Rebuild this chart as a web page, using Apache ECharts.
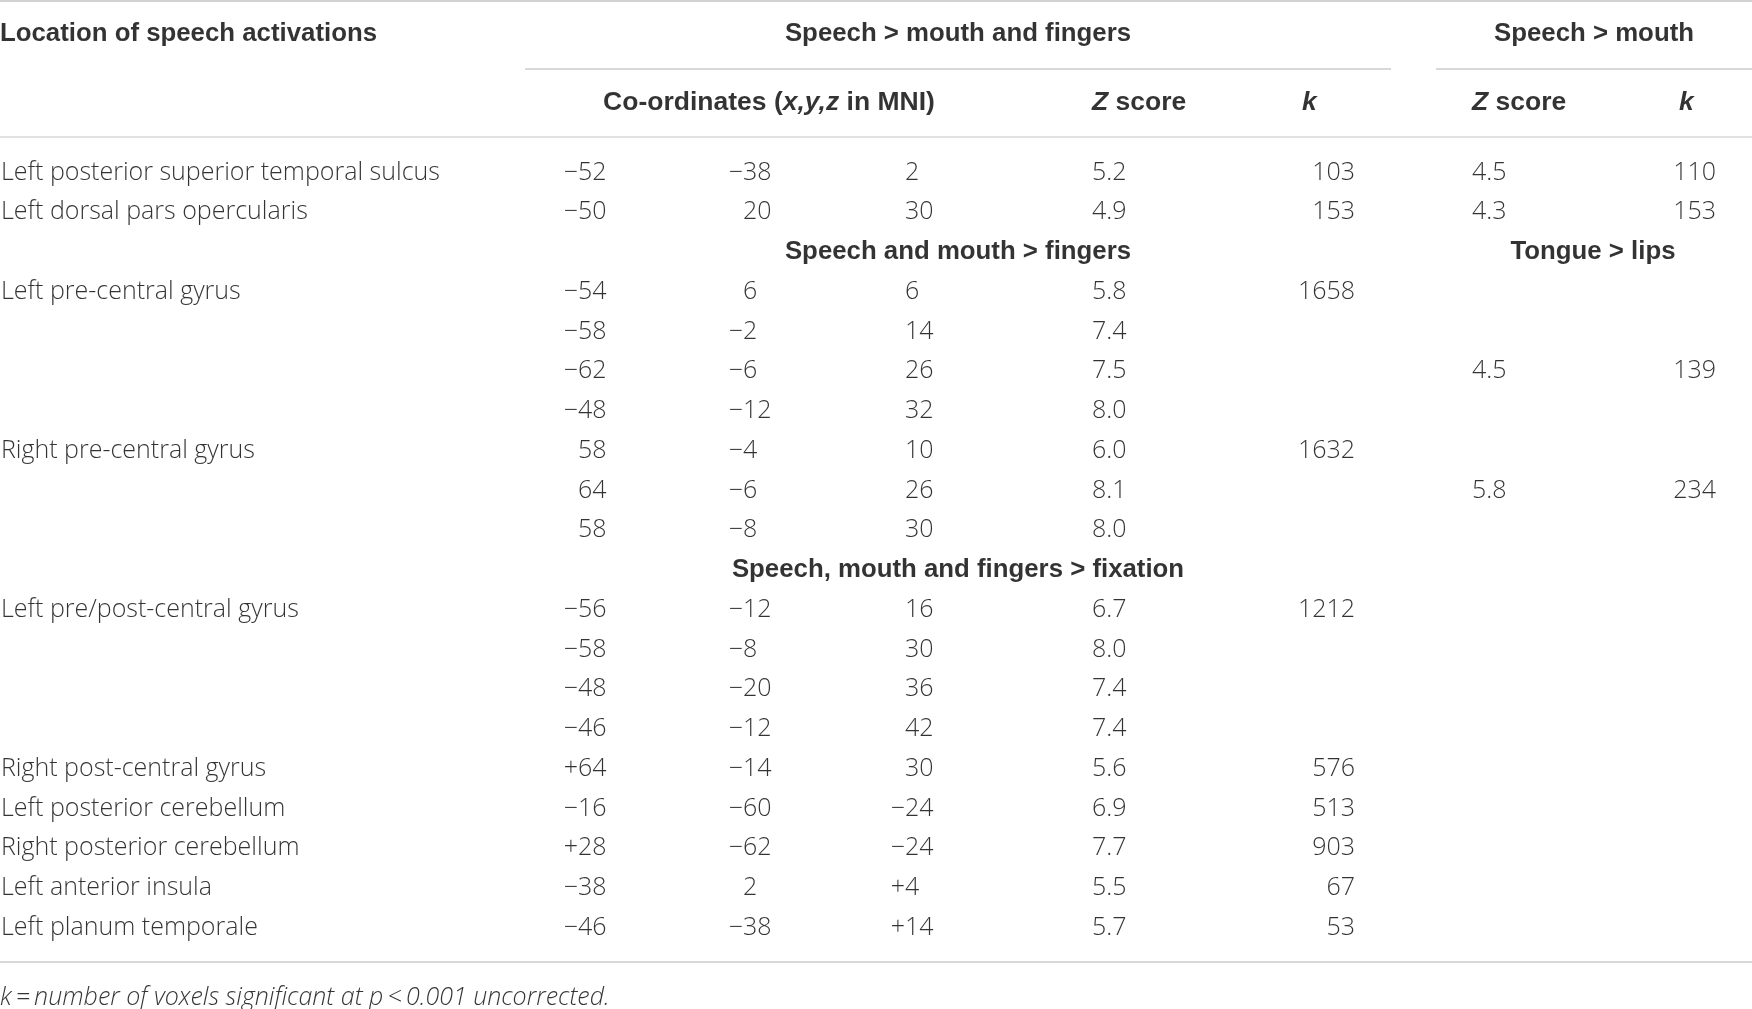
<!DOCTYPE html>
<html>
<head>
<meta charset="utf-8">
<script src="https://cdn.jsdelivr.net/npm/echarts@6/dist/echarts.min.js"></script>
<style>
  html, body { margin: 0; padding: 0; background: #fff; }
  #main { width: 1752px; height: 1009px; }
</style>
</head>
<body>
<div id="main"></div>
<script>
// table content, one entry per body row (null = empty cell)
var regionNames = ['Left posterior superior temporal sulcus', 'Left dorsal pars opercularis', null,
	'Left pre-central gyrus', null, null, null, 'Right pre-central gyrus', null, null, null,
	'Left pre/post-central gyrus', null, null, null, 'Right post-central gyrus',
	'Left posterior cerebellum', 'Right posterior cerebellum', 'Left anterior insula', 'Left planum temporale'];
var coordX = ['−52', '−50', null, '−54', '−58', '−62', '−48', '58', '64', '58', null,
	'−56', '−58', '−48', '−46', '+64', '−16', '+28', '−38', '−46'];
var coordY = ['−38', '20', null, '6', '−2', '−6', '−12', '−4', '−6', '−8', null,
	'−12', '−8', '−20', '−12', '−14', '−60', '−62', '2', '−38'];
var coordZ = ['2', '30', null, '6', '14', '26', '32', '10', '26', '30', null,
	'16', '30', '36', '42', '30', '−24', '−24', '+4', '+14'];
var zScores = ['5.2', '4.9', null, '5.8', '7.4', '7.5', '8.0', '6.0', '8.1', '8.0', null,
	'6.7', '8.0', '7.4', '7.4', '5.6', '6.9', '7.7', '5.5', '5.7'];
var kVoxels = ['103', '153', null, '1658', null, null, null, '1632', null, null, null,
	'1212', null, null, null, '576', '513', '903', '67', '53'];
var zScores2 = ['4.5', '4.3', null, null, null, '4.5', null, null, '5.8', null, null,
	null, null, null, null, null, null, null, null, null];
var kVoxels2 = ['110', '153', null, null, null, '139', null, null, '234', null, null,
	null, null, null, null, null, null, null, null, null];
var sectionRows = [2, 10];
var sectionLeft = ['Speech and mouth > fingers', 'Speech, mouth and fingers > fixation'];
var sectionRight = ['Tongue > lips', null];
var footnote = 'k\u2009=\u2009number of voxels significant at p\u2009<\u20090.001 uncorrected.';

// layout (pixels)
var W = 1752, H = 1009;
var rowTop = 172.5, rowH = 39.75;
var head1Y = 34, head2Y = 103, footY = 997.5;
var bodyFont = '"Open Sans", "Liberation Sans", sans-serif';
var boldFont = '"Liberation Sans", Arial, sans-serif';

function rowY(i) { return rowTop + i * rowH; }

function textSeries(items, align, style) {
	return {
		type : 'scatter',
		symbolSize : 1,
		itemStyle : { color : 'rgba(0,0,0,0)' },
		silent : true,
		data : items.map(function (it) { return { name : it[2], value : [it[0], it[1]] }; }),
		label : Object.assign({
			show : true,
			position : 'inside',
			align : align,
			verticalAlign : 'middle',
			formatter : '{b}',
			color : '#000',
			fontFamily : bodyFont,
			fontWeight : 300,
			fontSize : 25
		}, style || {})
	};
}

// a column of plain values
function column(values, x) {
	var out = [];
	values.forEach(function (v, i) { if (v !== null) out.push([x, rowY(i), v]); });
	return out;
}
// signed numbers: digits start at x, sign hangs to the left
function digitsColumn(values, x) {
	return column(values.map(function (v) { return v === null ? null : v.replace(/^[−+]/, ''); }), x);
}
function signColumn(values, x) {
	return column(values.map(function (v) { return v !== null && /^[−+]/.test(v) ? v.charAt(0) : null; }), x);
}

var boldStyle = { fontFamily : boldFont, fontWeight : 'bold', fontSize : 25.8, color : '#000' };
var richHead = {
	b : { fontFamily : boldFont, fontWeight : 'bold', fontSize : 26.5, color : '#000' },
	bi : { fontFamily : boldFont, fontWeight : 'bold', fontStyle : 'italic', fontSize : 26.5, color : '#000' }
};

var rules = [
	{ coords : [[0, 1], [W, 1]], lineStyle : { color : '#8a8a8a', width : 1.5 } },
	{ coords : [[525, 69], [1391, 69]], lineStyle : { color : '#9a9a9a', width : 1.5 } },
	{ coords : [[1436, 69], [W, 69]], lineStyle : { color : '#9a9a9a', width : 1.5 } },
	{ coords : [[0, 136.5], [W, 136.5]], lineStyle : { color : '#c4c4c4', width : 2 } },
	{ coords : [[0, 962], [W, 962]], lineStyle : { color : '#9a9a9a', width : 1.5 } }
];

var sectionLeftItems = [], sectionRightItems = [];
sectionRows.forEach(function (r, i) {
	sectionLeftItems.push([958, rowY(r), sectionLeft[i]]);
	if (sectionRight[i]) sectionRightItems.push([1593, rowY(r), sectionRight[i]]);
});

var chart = echarts.init(document.getElementById('main'), null, { renderer : 'canvas' });
var option = {
	animation : false,
	backgroundColor : '#fff',
	grid : { left : 0, right : 0, top : 0, bottom : 0 },
	xAxis : { type : 'value', min : 0, max : W, show : false },
	yAxis : { type : 'value', min : 0, max : H, inverse : true, show : false },
	series : [
		{
			type : 'lines',
			coordinateSystem : 'cartesian2d',
			silent : true,
			data : rules
		},
		// header rows
		textSeries([[0, head1Y, 'Location of speech activations']], 'left', boldStyle),
		textSeries([[958, head1Y, 'Speech > mouth and fingers'], [1594, head1Y, 'Speech > mouth']], 'center', boldStyle),
		textSeries([[769, head2Y, '{b|Co-ordinates (}{bi|x,y,z}{b| in MNI)}']], 'center', { rich : richHead }),
		textSeries([[1092, head2Y, '{bi|Z}{b| score}'], [1302, head2Y, '{bi|k}'],
			[1472, head2Y, '{bi|Z}{b| score}'], [1679, head2Y, '{bi|k}']], 'left', { rich : richHead }),
		// section headings
		textSeries(sectionLeftItems.concat(sectionRightItems), 'center', boldStyle),
		// body
		textSeries(column(regionNames, 1), 'left'),
		textSeries(digitsColumn(coordX, 578).concat(digitsColumn(coordY, 743), digitsColumn(coordZ, 905)), 'left'),
		textSeries(signColumn(coordX, 578).concat(signColumn(coordY, 743), signColumn(coordZ, 905)), 'right'),
		textSeries(column(zScores, 1092).concat(column(zScores2, 1472)), 'left'),
		textSeries(column(kVoxels, 1355).concat(column(kVoxels2, 1716)), 'right'),
		// footnote
		textSeries([[0, footY, footnote]], 'left', { fontStyle : 'italic' })
	]
};
chart.setOption(option);
</script>
</body>
</html>
